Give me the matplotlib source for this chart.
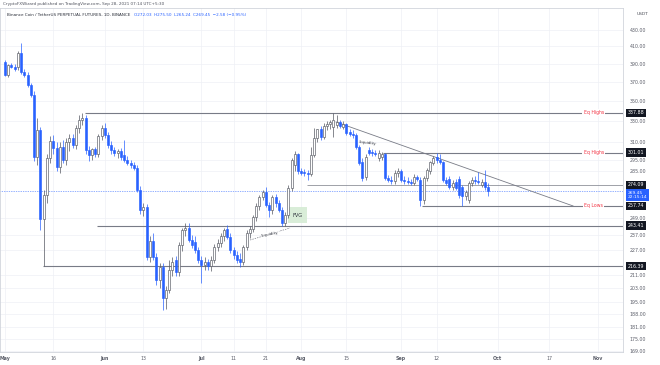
import matplotlib
matplotlib.use("Agg")
import matplotlib.pyplot as plt
import matplotlib.transforms as mtransforms
from matplotlib.patches import Rectangle
from matplotlib.ticker import NullLocator

# daily candles, day 0 = 2021-05-01
days = list(range(151))
opens = [391.8, 377.3, 388.4, 386.2, 386, 402, 381, 377, 366, 356,
         297, 321, 248, 266, 296, 311, 305, 289, 306, 295,
         310, 314, 308, 323, 331, 333, 303, 299, 304, 300,
         316, 323, 317, 308, 303, 300.7, 302, 299, 295, 292,
         290, 288, 270, 255, 257, 222, 233, 222, 208, 215.7,
         197, 202, 214, 220, 212.6, 230, 240, 242, 233.4, 232,
         227, 220, 217, 219, 216.5, 220, 229, 231.5, 236, 241,
         235.5, 227, 223.4, 221, 219, 229, 238, 241, 249.6, 258,
         264.6, 268.5, 258.4, 254.7, 264.6, 260, 254.7, 245.3, 251, 271.6,
         290, 300, 285, 284, 283.7, 283, 299, 314, 322, 315,
         325, 327, 324, 326, 329, 324, 327, 319.6, 318, 316.8,
         306, 293, 280, 303, 301.6, 300.7, 296.4, 297, 300, 279.7,
         278, 277, 283.7, 285, 278, 277, 276.4, 275.6, 280.5, 278,
         262, 279.7, 285, 292, 297.3, 295, 293, 278, 279, 272.4,
         276.4, 279, 272, 265, 262, 275.6, 278, 277, 274, 276.4,
         272.03]
highs = [394, 390, 391, 389, 404, 414, 384, 380, 369, 360,
         333, 324, 270, 300, 316, 317, 310, 310, 312, 314,
         318, 318, 326, 336, 337.9, 336, 307, 305, 306, 318,
         326, 328, 320, 311, 306, 304, 305, 312, 298, 295,
         293, 290, 273, 260, 259, 236, 238, 225, 218, 218,
         204, 220, 222, 223, 232, 242, 245, 245, 237, 236,
         229, 223, 222, 221, 223, 231, 234, 238, 242, 244,
         238, 229, 226, 225, 230, 240, 243, 251, 260, 266,
         270, 272.4, 261, 266, 267, 262, 257, 253, 274, 296,
         302, 301, 288, 287, 286, 306, 323, 322, 325, 328,
         330, 331, 337.9, 336, 331, 330, 328, 322, 321, 319,
         308, 296, 300, 306, 304, 303, 303, 301.8, 301, 282,
         281, 286, 288, 287, 281, 280, 279, 283, 282, 280,
         281, 288, 294, 298, 301, 300, 294, 280, 281, 278,
         279, 281, 274, 270, 277, 280, 281, 284.6, 279, 286.2,
         275.5]
lows = [376, 375, 385, 382, 383, 378, 375, 364, 354, 294,
        290, 240, 216.4, 260, 292, 300, 285, 284, 292, 290,
        302, 305, 304, 319, 326, 300, 294, 295, 297, 297,
        312, 314, 305, 300, 298, 296, 295, 293, 290, 288,
        286, 268, 252, 250, 220, 219, 220, 205, 203, 190.4,
        191, 200, 210, 210, 210, 226, 236, 232, 228, 225,
        218, 206, 214, 214, 213, 218, 226, 229, 233, 234,
        225, 221, 218, 215.7, 217, 227, 235, 239, 247, 255,
        262, 257, 249.6, 252, 257, 253, 243, 243, 249, 269,
        285, 283, 282, 281, 278, 281, 297, 310, 312, 313,
        321, 322, 315, 323, 323, 322, 317, 316, 314, 304,
        290, 277, 278, 299, 298, 298, 294, 295, 278, 276,
        275, 275, 280, 276, 275, 274.5, 274, 274, 277, 257.74,
        259, 277, 283, 290, 292, 291, 276, 274, 271, 270,
        270, 264, 257.8, 262, 260, 273, 275, 275, 272, 270,
        265.24]
closes = [377.3, 388.4, 386.2, 384, 402, 380, 377, 366.5, 356, 297,
          321, 248, 266, 296, 311, 305, 289, 306, 295, 310,
          314, 308, 323, 331, 333, 303, 299, 304, 300, 316,
          323, 317, 308, 303, 300.7, 302, 297, 295, 292, 290,
          288, 270, 255, 257, 222, 233, 222, 208, 215.7, 197,
          202, 214, 219, 212.6, 230, 240, 242, 233.4, 230, 227,
          220, 217, 219, 216.5, 220, 229, 231.5, 236, 240, 235.5,
          227, 223.4, 220.2, 219, 229, 238, 241, 249.6, 258, 264.6,
          268.5, 258.4, 254.7, 264.6, 260, 254.7, 245.3, 251, 271.6, 294.6,
          300, 285, 284, 283.7, 283, 299, 314, 322, 315, 325,
          327, 329, 331, 329, 325, 327, 319, 318, 316.8, 306,
          292, 279.7, 297, 300.7, 300.7, 300, 300.7, 300, 279.7, 278,
          277, 283.7, 285.4, 278, 277, 276.4, 275.6, 280.5, 278.5, 262,
          279.7, 286, 293, 296.4, 294.6, 293, 278, 275.6, 272.4, 275.6,
          271.6, 266, 265, 268, 275.6, 278, 277, 276, 276.4, 272.03,
          269.45]

# price axis (218.00 sits under the 216.39 tag in the original)
axis_prices = [430, 410, 390, 370, 350, 330, 310, 295, 285, 249, 237,
               227, 211, 203, 195, 188, 181, 175, 169]
# time axis
tick_days = [0, 15, 31, 43, 61, 71, 81, 92, 106, 123, 134, 153, 169, 184]
tick_names = ["May", "16", "Jun", "13", "Jul", "11", "21", "Aug", "15",
              "Sep", "12", "Oct", "17", "Nov"]

# drawn levels: price, start day, tag
levels = [337.88, 301.01, 274.09, 257.74, 243.41, 216.39]
level_start = [24.8, 117.4, 93.8, 129.5, 28.6, 11.8]
level_tags = ["Eq Highs", "Eq Highs", "", "Eq Lows", "", ""]
last_price = 269.45

trend_days = [102.8, 176.4]
trend_prices = [329.0, 257.7]

BLUE = "#2962FF"
UPEDGE = "#555861"

W, H = 660, 365
fig = plt.figure(figsize=(W / 100, H / 100), dpi=100)
ax = fig.add_axes([0, 1 - 352 / H, 623 / W, (352 - 8) / H])

ax.set_yscale("log")
ax.set_ylim(168.5, 458.4)
ax.set_xlim(-1.55, 191.9)
ax.yaxis.set_minor_locator(NullLocator())

ax.set_yticks(axis_prices)
ax.set_yticklabels([f"{p:.2f}" for p in axis_prices])
ax.yaxis.tick_right()
ax.set_xticks(tick_days)
ax.set_xticklabels(tick_names)
for lab in ax.get_xticklabels():
    if not lab.get_text().isdigit():
        lab.set_fontweight("bold")
ax.tick_params(length=0, labelsize=3.4, labelcolor="#5d606b")
ax.tick_params(axis="y", pad=5)
ax.tick_params(axis="x", pad=3)
ax.grid(True, color="#eef0f5", lw=0.5)
ax.set_axisbelow(True)
for s in ax.spines.values():
    s.set_color("#d1d4dc")
    s.set_linewidth(0.6)

# candles
up = [c >= o for o, c in zip(opens, closes)]
wick_col = [UPEDGE if u else BLUE for u in up]
face = ["white" if u else BLUE for u in up]
edge = [UPEDGE if u else BLUE for u in up]
bottoms = [min(o, c) for o, c in zip(opens, closes)]
heights = [max(abs(c - o), 0.4) for o, c in zip(opens, closes)]
ax.vlines(days, lows, highs, colors=wick_col, lw=0.5, zorder=3)
ax.bar(days, heights, bottom=bottoms, width=0.62, color=face,
       edgecolor=edge, linewidth=0.45, zorder=4)

xmax = ax.get_xlim()[1]
trans = mtransforms.blended_transform_factory(ax.transAxes, ax.transData)

# last price dotted line
ax.axhline(last_price, color=BLUE, lw=0.5, ls=(0, (1, 1.5)), zorder=2)

# horizontal levels and tags
for p, x0, tag in zip(levels, level_start, level_tags):
    lw = 0.8 if tag or p in (243.41, 216.39) else 0.5
    ax.hlines(p, x0, xmax, color="#787b86", lw=lw, zorder=2)
    if tag:
        ax.text(0.953, p, tag, transform=trans, fontsize=3.3, color="#F23645",
                ha="center", va="center", zorder=6,
                bbox=dict(boxstyle="square,pad=0.25", fc="white", ec="none"))
    ax.text(1.008, p, f"{p:.2f}", transform=trans, fontsize=3.4,
            color="white", ha="left", va="center", zorder=7, clip_on=False,
            bbox=dict(boxstyle="square,pad=0.35", fc="#131722", ec="none"))

ax.text(1.008, last_price, f"{last_price:.2f}\n22:15:14", transform=trans,
        fontsize=3.2, color="white", ha="left", va="top", zorder=7,
        clip_on=False, linespacing=1.2,
        bbox=dict(boxstyle="square,pad=0.35", fc=BLUE, ec="none"))

# trend line
ax.plot(trend_days, trend_prices, color="#787b86", lw=0.6, zorder=2)

# FVG box
ax.add_patch(Rectangle((87.9, 245.3), 5.9, 11.7, fc="#d5ecd4", ec="none",
                       alpha=0.9, zorder=1))
ax.text(90.8, 251, "FVG", fontsize=3.6, color="#2a2e39", ha="center",
        va="center", zorder=5)

# liquidity notes
ax.plot([76.1, 88.5], [233.4, 241.7], color="#787b86", lw=0.5,
        ls=(0, (2, 1.5)), zorder=2)
ax.text(82.3, 237.4, "Liquidity", fontsize=3.0, color="#2a2e39",
        ha="center", va="center", rotation=12, zorder=5,
        bbox=dict(boxstyle="square,pad=0.1", fc="white", ec="none"))
ax.text(112.5, 309.6, "Liquidity", fontsize=3.0, color="#2a2e39",
        ha="center", va="center", rotation=-6, zorder=5)

# header
fig.text(3 / W, 1 - 4 / H, "CryptoFXWizard published on TradingView.com, Sep 28, 2021 07:14 UTC+5:30",
         fontsize=3.0, color="#50535e", va="center", ha="left")
fig.text(7 / W, 1 - 15 / H, "Binance Coin / TetherUS PERPETUAL FUTURES, 1D, BINANCE",
         fontsize=3.0, color="#2a2e39", va="center", ha="left")
fig.text(134 / W, 1 - 15 / H, "O272.03  H275.50  L265.24  C269.45  \u22122.58 (\u22120.95%)",
         fontsize=3.0, color=BLUE, va="center", ha="left")
fig.text(637 / W, 1 - 14 / H, "USDT", fontsize=3.2, color="#4a4d57",
         va="center", ha="left")

fig.savefig("out.png", dpi=100)
